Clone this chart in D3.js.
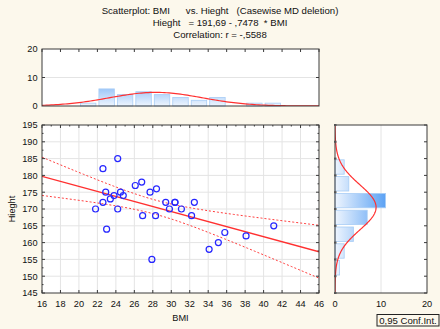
<!DOCTYPE html>
<html>
<head>
<meta charset="utf-8">
<script src="https://cdn.jsdelivr.net/npm/d3@7"></script>
<style>
  body { margin: 0; background: #fcf8ec; }
  svg { display: block; font-family: "Liberation Sans", Arial, sans-serif; }
  text { white-space: pre; }
</style>
</head>
<body>
<div id="chart"></div>
<script>
// Data
var bmi = [21.8, 22.6, 22.9, 22.6, 23.0, 23.4, 23.8, 24.2, 24.2, 24.5, 24.8, 26.1, 26.8, 26.9, 27.7,
	27.9, 28.4, 28.3, 29.4, 29.8, 30.4, 30.4, 31.1, 32.2, 32.5, 34.1, 35.1, 35.8, 38.1, 41.1];
var height = [170, 182, 175, 172, 164, 173, 174, 185, 170, 175, 174, 177, 178, 168, 175,
	155, 176, 168, 172, 170, 172, 172, 170, 168, 172, 158, 160, 163, 162, 165];

// histogram counts
var bmiBinStart = 20, bmiBinWidth = 2;
var bmiCounts = [1, 6, 4, 5, 4, 3, 2, 3, 0, 1, 1];
var heightBinStart = 150, heightBinWidth = 5;
var heightCounts = [1, 2, 4, 7, 11, 3, 2];

// regression from the title
var intercept = 191.69, slope = -0.7478;

var titleLines = [
	"Scatterplot: BMI      vs. Hieght   (Casewise MD deletion)",
	"Hieght   = 191,69 - ,7478  * BMI",
	"Correlation: r = -,5588"
];
var xTicks = d3.range(16, 47, 2);
var yTicks = d3.range(145, 196, 5);

var W = 440, H = 329;
var svg = d3.select("#chart").append("svg")
	.attr("width", W)
	.attr("height", H);

svg.append("rect").attr("width", W).attr("height", H).attr("fill", "#fcf8ec");

var x = d3.scaleLinear().domain([16, 46]).range([42, 319]);
var y = d3.scaleLinear().domain([145, 195]).range([293, 125]);
var topY = d3.scaleLinear().domain([0, 20]).range([106, 49]);
var rightX = d3.scaleLinear().domain([0, 20]).range([335, 427]);

var frameColor = "#3a3a3a";
var gridColor = "#e4e4e4";
var tickFont = 9.2;

// gradients
var defs = svg.append("defs");
var gTop = defs.append("linearGradient").attr("id", "gradTop")
	.attr("gradientUnits", "userSpaceOnUse")
	.attr("x1", 0).attr("x2", 0).attr("y1", topY(0)).attr("y2", topY(12));
gTop.append("stop").attr("offset", 0).attr("stop-color", "#eef5fe");
gTop.append("stop").attr("offset", 1).attr("stop-color", "#4e9af3");
var gRight = defs.append("linearGradient").attr("id", "gradRight")
	.attr("gradientUnits", "userSpaceOnUse")
	.attr("y1", 0).attr("y2", 0).attr("x1", rightX(0)).attr("x2", rightX(12));
gRight.append("stop").attr("offset", 0).attr("stop-color", "#eef5fe");
gRight.append("stop").attr("offset", 1).attr("stop-color", "#4e9af3");

defs.append("clipPath").attr("id", "clipMain").append("rect")
	.attr("x", x(16)).attr("y", y(195)).attr("width", x(46) - x(16)).attr("height", y(145) - y(195));
defs.append("clipPath").attr("id", "clipTop").append("rect")
	.attr("x", x(16)).attr("y", topY(20)).attr("width", x(46) - x(16)).attr("height", topY(0) - topY(20));
defs.append("clipPath").attr("id", "clipRight").append("rect")
	.attr("x", rightX(0)).attr("y", y(195)).attr("width", rightX(20) - rightX(0)).attr("height", y(145) - y(195));

// title
svg.selectAll(".title")
	.data(titleLines)
	.enter().append("text")
	.attr("class", "title")
	.attr("x", 220)
	.attr("y", function (d, i) { return 14 + i * 12.2; })
	.attr("text-anchor", "middle")
	.attr("font-size", 9.6)
	.attr("fill", "#111")
	.text(function (d) { return d; });

/**
 * Main scatter panel
 */
var main = svg.append("g");
main.append("rect")
	.attr("x", x(16)).attr("y", y(195))
	.attr("width", x(46) - x(16)).attr("height", y(145) - y(195))
	.attr("fill", "#fff");

main.selectAll(".vgrid").data(xTicks.slice(1, -1)).enter().append("line")
	.attr("x1", d => x(d)).attr("x2", d => x(d))
	.attr("y1", y(195)).attr("y2", y(145))
	.attr("stroke", gridColor).attr("stroke-width", 1);
main.selectAll(".hgrid").data(yTicks.slice(1, -1)).enter().append("line")
	.attr("y1", d => y(d)).attr("y2", d => y(d))
	.attr("x1", x(16)).attr("x2", x(46))
	.attr("stroke", gridColor).attr("stroke-width", 1);

// confidence band from the data
var n = bmi.length;
var xbar = d3.mean(bmi);
var sxx = d3.sum(bmi, d => (d - xbar) * (d - xbar));
var sse = d3.sum(bmi, (d, i) => Math.pow(height[i] - (intercept + slope * d), 2));
var s = Math.sqrt(sse / (n - 2));
var tcrit = 2.048;
function halfWidth(v) {
	return tcrit * s * Math.sqrt(1 / n + (v - xbar) * (v - xbar) / sxx);
}
var xs = d3.range(16, 46.01, 0.25);
var lineGen = d3.line().x(d => x(d[0])).y(d => y(d[1]));

var fitG = main.append("g").attr("clip-path", "url(#clipMain)");
fitG.append("path")
	.attr("d", lineGen(xs.map(v => [v, intercept + slope * v + halfWidth(v)])))
	.attr("fill", "none").attr("stroke", "#ff3b3b").attr("stroke-width", 1)
	.attr("stroke-dasharray", "2,2");
fitG.append("path")
	.attr("d", lineGen(xs.map(v => [v, intercept + slope * v - halfWidth(v)])))
	.attr("fill", "none").attr("stroke", "#ff3b3b").attr("stroke-width", 1)
	.attr("stroke-dasharray", "2,2");
fitG.append("path")
	.attr("d", lineGen([[16, intercept + slope * 16], [46, intercept + slope * 46]]))
	.attr("fill", "none").attr("stroke", "#ff3030").attr("stroke-width", 1.4);

main.selectAll(".pt").data(bmi).enter().append("circle")
	.attr("cx", d => x(d))
	.attr("cy", (d, i) => y(height[i]))
	.attr("r", 3)
	.attr("fill", "none")
	.attr("stroke", "#2626ff")
	.attr("stroke-width", 1.2);

main.append("rect")
	.attr("x", x(16)).attr("y", y(195))
	.attr("width", x(46) - x(16)).attr("height", y(145) - y(195))
	.attr("fill", "none").attr("stroke", frameColor).attr("stroke-width", 1);

// inward ticks on all sides
var xMinor = d3.range(17, 46, 2);
var yMinor = d3.range(147.5, 195, 5);
function ticksH(g, vals, yPos, len) {
	g.selectAll(null).data(vals).enter().append("line")
		.attr("x1", d => x(d)).attr("x2", d => x(d))
		.attr("y1", yPos).attr("y2", yPos + len)
		.attr("stroke", frameColor);
}
function ticksV(g, vals, xPos, len, scale) {
	g.selectAll(null).data(vals).enter().append("line")
		.attr("y1", d => scale(d)).attr("y2", d => scale(d))
		.attr("x1", xPos).attr("x2", xPos + len)
		.attr("stroke", frameColor);
}
ticksH(main, xTicks, y(145), -3);
ticksH(main, xTicks, y(195), 3);
ticksH(main, xMinor, y(195), 1.5);
ticksV(main, yTicks, x(16), 3, y);
ticksV(main, yMinor, x(16), 1.5, y);
ticksV(main, yTicks, x(46), -3, y);
ticksV(main, yMinor, x(46), -1.5, y);

main.selectAll(".xl").data(xTicks).enter().append("text")
	.attr("x", d => x(d)).attr("y", 306.5)
	.attr("text-anchor", "middle").attr("font-size", tickFont).attr("fill", "#111")
	.text(d => d);
main.selectAll(".yl").data(yTicks).enter().append("text")
	.attr("x", 37.5).attr("y", d => y(d) + 3.3)
	.attr("text-anchor", "end").attr("font-size", tickFont).attr("fill", "#111")
	.text(d => d);
main.append("text")
	.attr("x", x(31)).attr("y", 321)
	.attr("text-anchor", "middle").attr("font-size", tickFont).attr("fill", "#111")
	.text("BMI");
main.append("text")
	.attr("transform", "translate(14.5," + y(170) + ") rotate(-90)")
	.attr("text-anchor", "middle").attr("font-size", tickFont).attr("fill", "#111")
	.text("Hieght");

/**
 * Top histogram (BMI)
 */
var topG = svg.append("g");
topG.append("rect")
	.attr("x", x(16)).attr("y", topY(20))
	.attr("width", x(46) - x(16)).attr("height", topY(0) - topY(20))
	.attr("fill", "#fff");
topG.append("line")
	.attr("x1", x(16)).attr("x2", x(46)).attr("y1", topY(10)).attr("y2", topY(10))
	.attr("stroke", gridColor);
topG.selectAll(".bar").data(bmiCounts).enter().append("rect")
	.attr("x", (d, i) => x(bmiBinStart + i * bmiBinWidth) + 1.5)
	.attr("width", (d, i) => x(bmiBinStart + (i + 1) * bmiBinWidth) - x(bmiBinStart + i * bmiBinWidth) - 3)
	.attr("y", d => topY(d))
	.attr("height", d => topY(0) - topY(d))
	.attr("fill", "url(#gradTop)")
	.attr("stroke", "#a9cdf5").attr("stroke-width", 0.8);

var bmiMean = d3.mean(bmi), bmiSd = d3.deviation(bmi);
function normal(v, m, sd) {
	return Math.exp(-0.5 * Math.pow((v - m) / sd, 2)) / (sd * Math.sqrt(2 * Math.PI));
}
topG.append("path")
	.attr("clip-path", "url(#clipTop)")
	.attr("d", d3.line()
		.x(d => x(d))
		.y(d => topY(n * bmiBinWidth * normal(d, bmiMean, bmiSd)))(d3.range(16, 46.01, 0.25)))
	.attr("fill", "none").attr("stroke", "#ff3030").attr("stroke-width", 1.2);

topG.append("rect")
	.attr("x", x(16)).attr("y", topY(20))
	.attr("width", x(46) - x(16)).attr("height", topY(0) - topY(20))
	.attr("fill", "none").attr("stroke", frameColor);
ticksH(topG, xTicks, topY(20), 3);
ticksV(topG, [10], x(46), -3, topY);
ticksV(topG, [10], x(16), 3, topY);
topG.selectAll(".tyl").data([0, 10, 20]).enter().append("text")
	.attr("x", 37.5).attr("y", d => topY(d) + 3.3)
	.attr("text-anchor", "end").attr("font-size", tickFont).attr("fill", "#111")
	.text(d => d);

/**
 * Right histogram (Height)
 */
var rightG = svg.append("g");
rightG.append("rect")
	.attr("x", rightX(0)).attr("y", y(195))
	.attr("width", rightX(20) - rightX(0)).attr("height", y(145) - y(195))
	.attr("fill", "#fff");
rightG.append("line")
	.attr("x1", rightX(10)).attr("x2", rightX(10)).attr("y1", y(195)).attr("y2", y(145))
	.attr("stroke", gridColor);
rightG.selectAll(".bar").data(heightCounts).enter().append("rect")
	.attr("y", (d, i) => y(heightBinStart + (i + 1) * heightBinWidth) + 1.2)
	.attr("height", (d, i) => y(heightBinStart + i * heightBinWidth) - y(heightBinStart + (i + 1) * heightBinWidth) - 2.4)
	.attr("x", rightX(0))
	.attr("width", d => rightX(d) - rightX(0))
	.attr("fill", "url(#gradRight)")
	.attr("stroke", "#a9cdf5").attr("stroke-width", 0.8);

var hMean = d3.mean(height), hSd = d3.deviation(height);
rightG.append("path")
	.attr("clip-path", "url(#clipRight)")
	.attr("d", d3.line()
		.y(d => y(d))
		.x(d => rightX(n * heightBinWidth * normal(d, hMean, hSd)))(d3.range(145, 195.01, 0.25)))
	.attr("fill", "none").attr("stroke", "#ff3030").attr("stroke-width", 1.2);

rightG.append("rect")
	.attr("x", rightX(0)).attr("y", y(195))
	.attr("width", rightX(20) - rightX(0)).attr("height", y(145) - y(195))
	.attr("fill", "none").attr("stroke", frameColor);
ticksV(rightG, yTicks, rightX(20), -3, y);
rightG.selectAll(".lt").data(yTicks).enter().append("rect")
	.attr("x", rightX(0) - 1).attr("y", d => y(d) - 1)
	.attr("width", 2.5).attr("height", 2)
	.attr("fill", "#555");
rightG.selectAll(".rxl").data([0, 10, 20]).enter().append("text")
	.attr("x", d => rightX(d)).attr("y", 306.5)
	.attr("text-anchor", "middle").attr("font-size", tickFont).attr("fill", "#111")
	.text(d => d);

// legend box
svg.append("rect")
	.attr("x", 377).attr("y", 314.5).attr("width", 62).attr("height", 11.5)
	.attr("fill", "#fcf8ec").attr("stroke", "#222");
svg.append("text")
	.attr("x", 408).attr("y", 323.5)
	.attr("text-anchor", "middle").attr("font-size", 9.6).attr("fill", "#111")
	.text("0,95 Conf.Int.");
</script>
</body>
</html>
